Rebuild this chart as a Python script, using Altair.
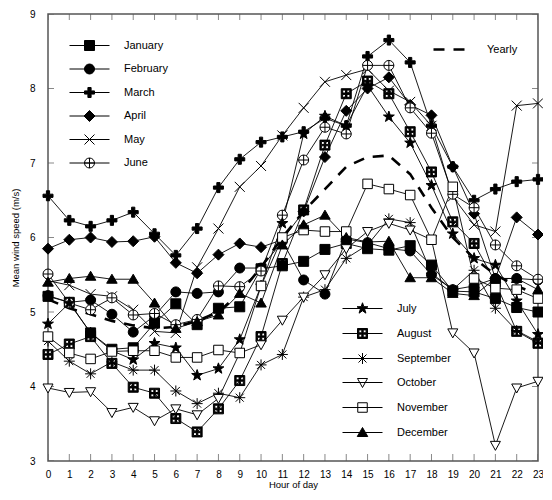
import altair as alt
import pandas as pd

HOURS = list(range(24))
MONTHS = ["January", "February", "March", "April", "May", "June",
          "July", "August", "September", "October", "November", "December"]
Y_TICKS = [3, 4, 5, 6, 7, 8, 9]

JAN = [5.21, 5.13, 4.72, 4.50, 4.52, 4.85, 5.11, 4.83, 5.05, 5.07, 5.58, 5.62,
       5.68, 5.84, 5.92, 5.85, 5.83, 5.89, 5.63, 5.28, 5.27, 5.18, 5.06, 5.00]
FEB = [5.22, 5.13, 5.16, 4.97, 4.73, 4.95, 5.27, 5.25, 5.27, 5.59, 5.59, 5.95,
       5.43, 5.24, 5.98, 5.93, 5.85, 5.82, 5.50, 5.30, 5.35, 5.45, 5.45, 5.43]
MAR = [6.56, 6.23, 6.15, 6.23, 6.34, 6.05, 5.76, 6.12, 6.67, 7.05, 7.28, 7.35,
       7.42, 7.60, 7.50, 8.43, 8.65, 8.35, 7.50, 6.95, 6.50, 6.65, 6.75, 6.78]
APR = [5.85, 5.97, 6.00, 5.94, 5.95, 6.01, 5.66, 5.52, 5.77, 5.92, 5.87, 5.97,
       6.35, 7.08, 7.70, 8.00, 8.15, 7.78, 7.64, 6.95, 6.32, 5.45, 6.27, 6.04]
MAY = [5.42, 5.36, 5.24, 5.21, 5.03, 4.74, 4.72, 5.60, 6.12, 6.68, 6.96, 7.37,
       7.74, 8.09, 8.18, 8.26, 7.97, 7.82, 7.50, 6.55, 6.17, 6.08, 7.77, 7.80]
JUN = [5.51, 5.12, 5.03, 5.19, 4.96, 4.98, 4.83, 4.90, 5.35, 5.34, 5.55, 6.30,
       7.04, 7.48, 7.39, 8.31, 8.31, 7.74, 7.40, 6.58, 6.40, 5.90, 5.62, 5.44]
JUL = [4.84, 5.12, 4.72, 4.48, 4.36, 4.58, 4.52, 4.15, 4.24, 4.63, 5.35, 6.19,
       7.39, 7.63, 7.50, 8.04, 7.62, 7.27, 6.70, 6.05, 5.72, 5.63, 5.15, 4.70]
AUG = [4.43, 4.57, 4.67, 4.31, 3.99, 3.91, 3.57, 3.39, 3.70, 4.08, 4.67, 5.65,
       6.37, 7.24, 7.93, 8.10, 7.93, 7.42, 6.88, 6.21, 5.92, 5.40, 4.74, 4.58]
SEP = [4.61, 4.34, 4.17, 4.33, 4.22, 4.22, 3.94, 3.77, 3.91, 3.85, 4.29, 4.43,
       5.20, 5.30, 5.72, 5.90, 6.25, 6.20, 5.52, 5.30, 5.56, 5.05, 4.75, 4.60]
OCT = [3.98, 3.92, 3.93, 3.65, 3.72, 3.54, 3.70, 3.62, 3.84, 4.45, 4.56, 4.89,
       5.20, 5.50, 5.85, 6.08, 6.19, 6.10, 5.97, 4.72, 4.45, 3.21, 3.98, 4.07]
NOV = [4.67, 4.45, 4.37, 4.47, 4.48, 4.48, 4.39, 4.39, 4.49, 4.45, 5.35, 6.00,
       6.10, 6.08, 6.08, 6.72, 6.65, 6.57, 5.97, 6.68, 5.45, 5.32, 5.30, 5.18]
DEC = [5.40, 5.45, 5.48, 5.44, 5.44, 5.12, 4.78, 4.87, 4.96, 5.25, 5.12, 5.90,
       6.17, 6.30, 6.00, 5.94, 5.95, 5.46, 5.46, 5.25, 5.22, 5.45, 5.45, 5.30]
YEARLY = [5.17, 5.05, 4.97, 4.88, 4.82, 4.78, 4.80, 4.88, 5.00, 5.25, 5.60, 6.00,
          6.35, 6.65, 6.95, 7.08, 7.10, 6.85, 6.40, 6.00, 5.72, 5.50, 5.35, 5.23]

SERIES = [JAN, FEB, MAR, APR, MAY, JUN, JUL, AUG, SEP, OCT, NOV, DEC]

# marker outlines in a -1..1 box
CIRCLE = "M1,0A1,1,0,1,1,-1,0A1,1,0,1,1,1,0Z"
MARKERS = [
    "M-1,-1H1V1H-1Z",                                                  # January filled square
    CIRCLE,                                                            # February filled circle
    "M-0.32,-1H0.32V-0.32H1V0.32H0.32V1H-0.32V0.32H-1V-0.32H-0.32Z",   # March plus
    "M0,-1.1L1.1,0L0,1.1L-1.1,0Z",                                     # April diamond
    "M-1,-1L1,1M-1,1L1,-1",                                            # May x
    CIRCLE + "M-1,0H1M0,-1V1",                                         # June circle plus
    "M0,-1.15L0.27,-0.37L1.09,-0.35L0.44,0.14L0.68,0.93L0,0.46L-0.68,0.93L-0.44,0.14L-1.09,-0.35L-0.27,-0.37Z",  # July star
    "M-1,-1H1V1H-1ZM-0.72,-0.72V-0.14H-0.14V-0.72ZM0.14,-0.72V-0.14H0.72V-0.72Z"
    "M-0.72,0.14V0.72H-0.14V0.14ZM0.14,0.14V0.72H0.72V0.14Z",         # August grid box
    "M-1.1,0H1.1M0,-1.1V1.1M-0.8,-0.8L0.8,0.8M-0.8,0.8L0.8,-0.8",      # September asterisk
    "M-1,-0.8H1L0,1Z",                                                 # October triangle down
    "M-0.95,-0.95H0.95V0.95H-0.95Z",                                   # November open square
    "M0,-1L1.05,0.8H-1.05Z",                                           # December triangle up
]
FILLS = ["black", "black", "black", "black", "white", "white",
         "black", "black", "white", "white", "white", "black"]
LEG_PATHS = ["M-4,0H4" + p for p in MARKERS]

rows = []
for m, vals in zip(MONTHS, SERIES):
    for h, v in zip(HOURS, vals):
        rows.append({"month": m, "hour": h, "speed": v})
df = pd.DataFrame(rows)
ydf = pd.DataFrame({"hour": HOURS, "speed": YEARLY, "series": ["Yearly"] * len(HOURS)})
bottom_df = pd.DataFrame({"hour": HOURS, "speed": [Y_TICKS[0]] * len(HOURS)})
top_df = pd.DataFrame({"hour": HOURS, "speed": [Y_TICKS[-1]] * len(HOURS)})
left_df = pd.DataFrame({"speed": Y_TICKS, "hour": [HOURS[0]] * len(Y_TICKS)})
right_df = pd.DataFrame({"speed": Y_TICKS, "hour": [HOURS[-1]] * len(Y_TICKS)})
legdf = pd.DataFrame({"month": MONTHS})

FONT = "Liberation Sans"
INK = "#555555"

x_enc = alt.X("hour:Q", scale=alt.Scale(domain=[0, 23], nice=False, zero=False),
              axis=alt.Axis(values=HOURS, format="d", title="Hour of day", grid=False,
                            ticks=False, tickSize=0, domain=False, labelPadding=8,
                            titlePadding=0.5, labelFlush=False, labelOverlap=False,
                            titleFontSize=9.5))
y_enc = alt.Y("speed:Q", scale=alt.Scale(domain=[3, 9], nice=False, zero=False),
              axis=alt.Axis(values=Y_TICKS, format="d", title="Mean wind speed (m/s)",
                            grid=False, ticks=False, tickSize=0, domain=False,
                            labelPadding=13, titlePadding=9, labelFlush=False,
                            titleFontSize=9.5))

lines = alt.Chart(df).mark_line(color="black", strokeWidth=0.9).encode(
    x=x_enc, y=y_enc, detail="month:N", order="hour:Q")

points = alt.Chart(df).mark_point(size=100, filled=True, stroke="black",
                                  strokeWidth=1, opacity=1).encode(
    x=x_enc, y=y_enc,
    shape=alt.Shape("month:N", scale=alt.Scale(domain=MONTHS, range=MARKERS), legend=None),
    fill=alt.Fill("month:N", scale=alt.Scale(domain=MONTHS, range=FILLS), legend=None),
)

yearly = alt.Chart(ydf).mark_line(color="black", strokeWidth=2.6).encode(
    x=x_enc, y=y_enc,
    strokeDash=alt.StrokeDash("series:N", scale=alt.Scale(domain=["Yearly"], range=[[11, 9]]),
                              legend=alt.Legend(title=None, orient="none", legendX=384,
                                                legendY=16, symbolSize=1296,
                                                symbolStrokeWidth=2.6,
                                                symbolStrokeColor="black",
                                                labelOffset=16, padding=0)),
)


def legend_layer(months, paths, fills, lx, ly, rowpad):
    leg = alt.Legend(title=None, orient="none", legendX=lx, legendY=ly, symbolSize=100,
                     symbolStrokeWidth=1, labelOffset=29,
                     rowPadding=rowpad, padding=0, symbolOpacity=1)
    return alt.Chart(legdf).transform_filter(
        alt.FieldOneOfPredicate(field="month", oneOf=["__none__"])
    ).mark_point(size=100, filled=True, strokeWidth=1, opacity=1).encode(
        shape=alt.Shape("month:N", scale=alt.Scale(domain=months, range=paths), legend=leg),
        fill=alt.Fill("month:N", scale=alt.Scale(domain=months, range=fills), legend=leg),
        stroke=alt.Stroke("month:N", scale=alt.Scale(domain=months, range=["black"] * len(months)),
                          legend=leg),
    )


legA = legend_layer(MONTHS[:6], LEG_PATHS[:6], FILLS[:6], 36, 26, 8.5)
legB = legend_layer(MONTHS[6:], LEG_PATHS[6:], FILLS[6:], 309, 289, 10)

tick_bottom = alt.Chart(bottom_df).mark_tick(orient="vertical", size=14, thickness=1,
                                             color=INK, clip=True).encode(x=x_enc, y=y_enc)
tick_top = alt.Chart(top_df).mark_tick(orient="vertical", size=12, thickness=1,
                                       color=INK, clip=True).encode(x=x_enc, y=y_enc)
tick_left = alt.Chart(left_df).mark_tick(orient="horizontal", size=12, thickness=1,
                                         color=INK, clip=True).encode(x=x_enc, y=y_enc)
tick_right = alt.Chart(right_df).mark_tick(orient="horizontal", size=12, thickness=1,
                                           color=INK, clip=True).encode(x=x_enc, y=y_enc)

chart = alt.layer(
    tick_bottom, tick_top, tick_left, tick_right, yearly, lines, points, legA, legB
).resolve_scale(shape="independent", fill="independent", stroke="independent").properties(
    width=490, height=447,
    padding={"left": 40, "top": 6, "right": 5, "bottom": 31},
    autosize=alt.AutoSizeParams(type="none"),
).configure_view(stroke=INK, strokeWidth=1.5).configure_axis(
    labelFont=FONT, titleFont=FONT, labelFontSize=10, titleFontSize=10,
    titleFontWeight="normal", labelColor="black", titleColor="black",
).configure_legend(labelFont=FONT, labelFontSize=11, labelColor="black")

chart.save("out.html", embed_options={"renderer": "svg", "actions": False})
